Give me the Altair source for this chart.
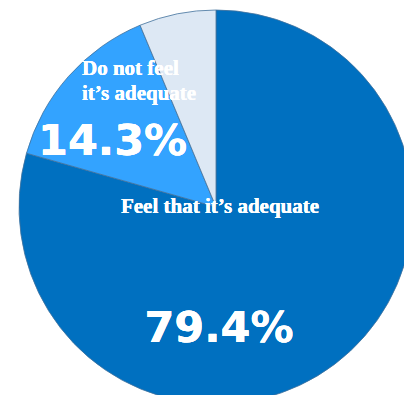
import altair as alt
import pandas as pd

categories = ["Feel that it’s adequate", "Do not feel it’s adequate", "Other"]
values = [79.4, 14.3, 6.3]
colors = ["#0070C0", "#33A3FF", "#DDE8F4"]
order_keys = [1, 2, 3]

df = pd.DataFrame({"category": categories, "value": values, "k": order_keys})

pie = alt.Chart(df).mark_arc(outerRadius=197, stroke="#41719C", strokeWidth=0.8).encode(
    theta=alt.Theta("value:Q", stack=True),
    color=alt.Color("category:N", scale=alt.Scale(domain=categories, range=colors), legend=None),
    order=alt.Order("k:Q"),
    x=alt.value(208),
    y=alt.value(199),
)

serif = "Liberation Serif"
sans = "DejaVu Sans"

lbl_no = alt.Chart(df).mark_text(
    text=["Do not feel", "it’s adequate"], font=serif, fontWeight="bold", fontSize=21,
    color="white", align="left", baseline="alphabetic", lineHeight=25,
).encode(x=alt.value(74), y=alt.value(67))

pct_no = alt.Chart(df).mark_text(
    text=f"{values[1]}%", font=sans, fontWeight="bold", fontSize=43,
    color="white", align="left", baseline="alphabetic",
).encode(x=alt.value(30), y=alt.value(147))

lbl_yes = alt.Chart(df).mark_text(
    text=categories[0], font=serif, fontWeight="bold", fontSize=21,
    color="white", align="center", baseline="alphabetic",
).encode(x=alt.value(212), y=alt.value(205))

pct_yes = alt.Chart(df).mark_text(
    text=f"{values[0]}%", font=sans, fontWeight="bold", fontSize=43,
    color="white", align="center", baseline="alphabetic",
).encode(x=alt.value(211), y=alt.value(334))

chart = alt.layer(pie, lbl_no, pct_no, lbl_yes, pct_yes).properties(
    width=396, height=387, padding=0, autosize=alt.AutoSizeParams(type="none"),
).configure_view(stroke=None)

chart.save("out.html", embed_options={"renderer": "svg", "actions": False})
